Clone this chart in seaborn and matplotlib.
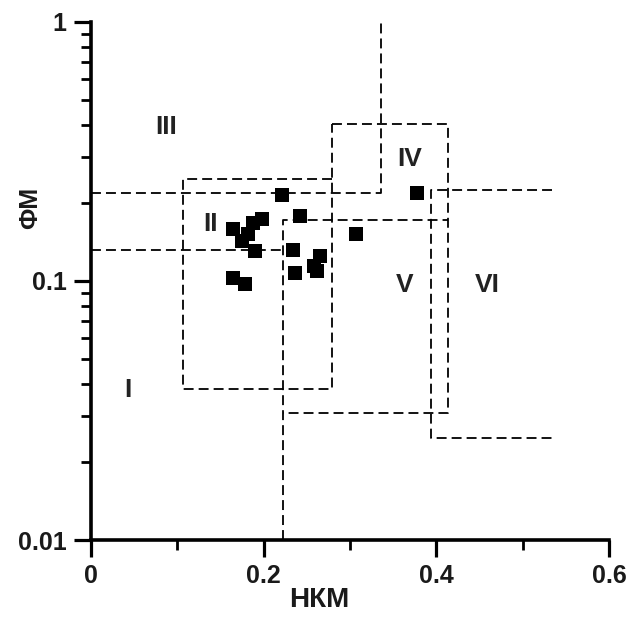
import matplotlib
matplotlib.use("Agg")
import matplotlib.pyplot as plt
import seaborn as sns
import numpy as np
import pandas as pd
from matplotlib.ticker import FixedLocator, LogLocator, NullFormatter

# ---- data -------------------------------------------------------------
nkm = [0.164, 0.175, 0.188, 0.198, 0.182, 0.190, 0.165, 0.178,
       0.221, 0.242, 0.234, 0.236, 0.265, 0.258, 0.262, 0.307, 0.377]
fm = [0.158, 0.142, 0.167, 0.173, 0.151, 0.130, 0.103, 0.097,
      0.215, 0.178, 0.132, 0.107, 0.125, 0.114, 0.109, 0.151, 0.219]

# boundary polylines (x list, y list)
b_iii_x = [0.0, 0.336, 0.336]
b_iii_y = [0.218, 0.218, 1.0]
b_low_x = [0.0, 0.2225]
b_low_y = [0.132, 0.132]
box_ii_x = [0.279, 0.1066, 0.1066, 0.279, 0.279]
box_ii_y = [0.248, 0.248, 0.0381, 0.0381, 0.404]
box_iv_x = [0.279, 0.4137, 0.4137, 0.2225]
box_iv_y = [0.404, 0.404, 0.0308, 0.0308]
b_v_x = [0.2225, 0.2225, 0.4137]
b_v_y = [0.01, 0.172, 0.172]
b_vi_x = [0.534, 0.394, 0.394, 0.534]
b_vi_y = [0.225, 0.225, 0.0247, 0.0247]

region_labels = ["I", "II", "III", "IV", "V", "VI"]
region_x = [0.043, 0.139, 0.087, 0.3685, 0.3627, 0.459]
region_y = [0.038, 0.166, 0.394, 0.294, 0.0967, 0.0967]

x_ticks = [0, 0.2, 0.4, 0.6]
x_tick_labels = ["0", "0.2", "0.4", "0.6"]
y_ticks = [0.01, 0.1, 1]
y_tick_labels = ["0.01", "0.1", "1"]

# ---- style ------------------------------------------------------------
sns.set_theme(style="ticks")
plt.rcParams["font.family"] = ["Liberation Sans", "DejaVu Sans"]
plt.rcParams["font.weight"] = "bold"

fig = plt.figure(figsize=(6.4, 6.2), dpi=100)
fig.patch.set_facecolor("white")
ax = fig.add_axes([0.142, 0.129, 0.81, 0.836])
ax.set_facecolor("white")

dash = (0, (5.5, 2.8))
for xs, ys in [(b_iii_x, b_iii_y), (b_low_x, b_low_y), (box_ii_x, box_ii_y),
               (box_iv_x, box_iv_y), (b_v_x, b_v_y), (b_vi_x, b_vi_y)]:
    ax.plot(xs, ys, color="black", lw=1.3, ls=dash, zorder=2)

df = pd.DataFrame({"НКМ": nkm, "ФМ": fm})
sns.scatterplot(data=df, x="НКМ", y="ФМ", marker="s", s=95, color="black",
                edgecolor="black", linewidth=0, ax=ax, zorder=3)

for lab, lx, ly in zip(region_labels, region_x, region_y):
    ax.text(lx, ly, lab, fontsize=19, fontweight="bold", ha="center",
            va="center", color="#222222")

ax.set_yscale("log")
ax.set_xlim(0, 0.6)
ax.set_ylim(0.01, 1)

ax.xaxis.set_major_locator(FixedLocator(x_ticks))
ax.set_xticklabels(x_tick_labels)
ax.xaxis.set_minor_locator(FixedLocator([0.1, 0.3, 0.5]))
ax.yaxis.set_major_locator(FixedLocator(y_ticks))
ax.set_yticklabels(y_tick_labels)
ax.yaxis.set_minor_locator(LogLocator(base=10, subs=np.arange(2, 10)))
ax.yaxis.set_minor_formatter(NullFormatter())

ax.tick_params(which="major", direction="out", length=12.5, width=2.3,
               labelsize=18, pad=5, color="black", labelcolor="#1a1a1a")
ax.tick_params(which="minor", direction="out", length=7, width=2.0,
               color="black")

for side in ["top", "right"]:
    ax.spines[side].set_visible(False)
for side in ["left", "bottom"]:
    ax.spines[side].set_linewidth(2.6)
    ax.spines[side].set_color("black")

ax.set_xlabel("НКМ", fontsize=20, fontweight="bold", color="#1a1a1a")
ax.set_ylabel("ФМ", fontsize=18, fontweight="bold", color="#1a1a1a")
ax.xaxis.set_label_coords(0.44, -0.09)
ax.yaxis.set_label_coords(-0.095, 0.64)

fig.savefig("out.png", dpi=100, facecolor="white")
